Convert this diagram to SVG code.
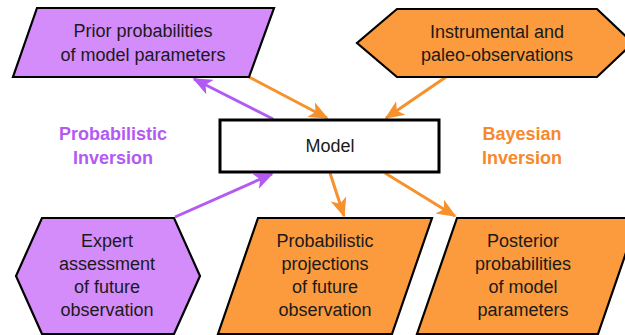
<svg xmlns="http://www.w3.org/2000/svg" width="625" height="335" viewBox="0 0 625 335">
  <style>
    .purple { fill: #d58cfb; stroke: #000; stroke-width: 2.2; stroke-linejoin: miter; }
    .orange { fill: #fb9b3d; stroke: #000; stroke-width: 2.2; stroke-linejoin: miter; }
    .box { fill: #fff; stroke: #000; stroke-width: 3; }
    .lbl { font-family: "Liberation Sans", Arial, sans-serif; font-size: 18px; fill: #1a1a1a; text-anchor: middle; }
    .side { font-family: "Liberation Sans", Arial, sans-serif; font-size: 18px; font-weight: bold; text-anchor: middle; }
    .ap { stroke: #b35af2; stroke-width: 3; fill: none; }
    .ao { stroke: #f7912b; stroke-width: 3; fill: none; }
  </style>
  <defs>
    <marker id="headP" viewBox="0 0 12 10" refX="11" refY="5" markerWidth="6.5" markerHeight="5.5" markerUnits="strokeWidth" orient="auto">
      <path d="M0,0 L12,5 L0,10 L3,5 z" fill="#b35af2"/>
    </marker>
    <marker id="headO" viewBox="0 0 12 10" refX="11" refY="5" markerWidth="6.5" markerHeight="5.5" markerUnits="strokeWidth" orient="auto">
      <path d="M0,0 L12,5 L0,10 L3,5 z" fill="#f7912b"/>
    </marker>
  </defs>

  <g id="connectors">
    <line class="ap" x1="273" y1="119" x2="194" y2="79" marker-end="url(#headP)"/>
    <line class="ao" x1="249" y1="77" x2="327" y2="118" marker-end="url(#headO)"/>
    <line class="ao" x1="446" y1="77" x2="386" y2="118" marker-end="url(#headO)"/>
    <line class="ap" x1="175" y1="217" x2="272" y2="174" marker-end="url(#headP)"/>
    <line class="ao" x1="330" y1="173" x2="344" y2="216" marker-end="url(#headO)"/>
    <line class="ao" x1="385" y1="173" x2="455" y2="216" marker-end="url(#headO)"/>
  </g>

  <g id="prior">
    <polygon class="purple" points="37,8 274,8 249,77 13,77"/>
    <text class="lbl" x="143" y="37">Prior probabilities</text>
    <text class="lbl" x="143" y="61">of model parameters</text>
  </g>

  <g id="observations">
    <polygon class="orange" points="397,9 597,9 633,43 597,77 397,77 357,43"/>
    <text class="lbl" x="497" y="38">Instrumental and</text>
    <text class="lbl" x="497" y="61">paleo-observations</text>
  </g>

  <g id="model">
    <rect class="box" x="220" y="120" width="219" height="52"/>
    <text class="lbl" x="330" y="152">Model</text>
  </g>

  <g id="probabilistic-inversion">
    <text class="side" x="113" y="140" fill="#b35af2">Probabilistic</text>
    <text class="side" x="113" y="164" fill="#b35af2">Inversion</text>
  </g>

  <g id="bayesian-inversion">
    <text class="side" x="522" y="140" fill="#f7882c">Bayesian</text>
    <text class="side" x="522" y="164" fill="#f7882c">Inversion</text>
  </g>

  <g id="expert">
    <polygon class="purple" points="42,218 174,218 200,276 174,334 42,334 16,276"/>
    <text class="lbl" x="107" y="247">Expert</text>
    <text class="lbl" x="107" y="270">assessment</text>
    <text class="lbl" x="107" y="293">of future</text>
    <text class="lbl" x="107" y="316">observation</text>
  </g>

  <g id="projections">
    <polygon class="orange" points="258,218 432,218 392,334 218,334"/>
    <text class="lbl" x="325" y="247">Probabilistic</text>
    <text class="lbl" x="325" y="270">projections</text>
    <text class="lbl" x="325" y="293">of future</text>
    <text class="lbl" x="325" y="316">observation</text>
  </g>

  <g id="posterior">
    <polygon class="orange" points="457,218 638,218 598,334 417,334"/>
    <text class="lbl" x="523" y="247">Posterior</text>
    <text class="lbl" x="523" y="270">probabilities</text>
    <text class="lbl" x="523" y="293">of model</text>
    <text class="lbl" x="523" y="316">parameters</text>
  </g>
</svg>
